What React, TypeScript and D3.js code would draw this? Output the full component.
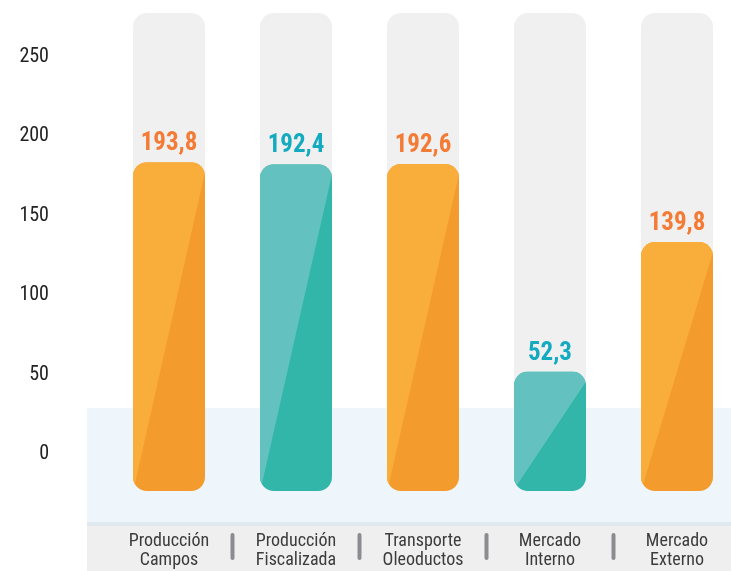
import { scaleLinear, scalePoint, select } from 'd3'
import { useEffect, useRef } from 'react'

const categories = ['Producción Campos', 'Producción Fiscalizada', 'Transporte Oleoductos', 'Mercado Interno', 'Mercado Externo']
const values = [193.8, 192.4, 192.6, 52.3, 139.8]
const valueLabels = ['193,8', '192,4', '192,6', '52,3', '139,8']
const palettes = ['orange', 'teal', 'orange', 'teal', 'orange']
const yTicks = [0, 50, 100, 150, 200, 250]

const colors: Record<string, { light: string; dark: string; text: string }> = {
  orange: { light: '#f9ae3b', dark: '#f39b2d', text: '#f47b35' },
  teal: { light: '#63c2bf', dark: '#33b6aa', text: '#14abc0' },
}

const FONT = "'Liberation Sans Narrow', 'Arial Narrow', 'Roboto Condensed', sans-serif"

export default function App() {
  const ref = useRef<SVGSVGElement>(null)

  useEffect(() => {
    if (!ref.current) return
    const width = 731
    const height = 571
    const svg = select(ref.current)
    svg.selectAll('*').remove()

    const plotBottom = 491
    const bgTop = 13
    const barWidth = 72
    const radius = 14

    const x = scalePoint<string>().domain(categories).range([169, 677])
    // tick labels on the left
    const yAxis = scaleLinear().domain([0, 250]).range([452, 55])
    // bar heights (the infographic's bars sit on their own scale)
    const yBar = scaleLinear().domain([0, 250]).range([449, 79])

    // bottom bands
    svg.append('rect').attr('x', 87).attr('y', 408).attr('width', width - 87).attr('height', 114).attr('fill', '#eef6fc')
    svg.append('rect').attr('x', 87).attr('y', 522).attr('width', width - 87).attr('height', 4).attr('fill', '#dfe9ee')
    svg.append('rect').attr('x', 87).attr('y', 526).attr('width', width - 87).attr('height', height - 526).attr('fill', '#efefef')

    // y labels
    svg
      .append('g')
      .selectAll('text')
      .data(yTicks)
      .join('text')
      .attr('x', 49)
      .attr('y', (d) => yAxis(d))
      .attr('dy', '0.35em')
      .attr('text-anchor', 'end')
      .attr('font-family', FONT)
      .attr('font-size', 20)
      .attr('fill', '#222')
      .text((d) => d)

    const defs = svg.append('defs')
    const bars = svg
      .append('g')
      .selectAll('g')
      .data(categories.map((c, i) => ({ c, i, v: values[i], label: valueLabels[i], pal: colors[palettes[i]] })))
      .join('g')

    // gray background columns
    bars
      .append('rect')
      .attr('x', (d) => (x(d.c) ?? 0) - barWidth / 2)
      .attr('y', bgTop)
      .attr('width', barWidth)
      .attr('height', plotBottom - bgTop)
      .attr('rx', radius)
      .attr('fill', '#f0f0f0')

    bars.each(function (d) {
      const g = select(this)
      const x0 = (x(d.c) ?? 0) - barWidth / 2
      const x1 = x0 + barWidth
      const top = yBar(d.v)
      const id = `clip-${d.i}`
      defs
        .append('clipPath')
        .attr('id', id)
        .append('rect')
        .attr('x', x0)
        .attr('y', top)
        .attr('width', barWidth)
        .attr('height', plotBottom - top)
        .attr('rx', radius)
      const inner = g.append('g').attr('clip-path', `url(#${id})`)
      inner.append('rect').attr('x', x0).attr('y', top).attr('width', barWidth).attr('height', plotBottom - top).attr('fill', d.pal.dark)
      inner
        .append('polygon')
        .attr('points', `${x0},${top} ${x1},${top} ${x1},${top + 10} ${x0 + 1},${plotBottom - 3} ${x0},${plotBottom}`)
        .attr('fill', d.pal.light)
      g.append('text')
        .attr('x', x(d.c) ?? 0)
        .attr('y', top - 12)
        .attr('text-anchor', 'middle')
        .attr('font-family', FONT)
        .attr('font-weight', 'bold')
        .attr('font-size', 25)
        .attr('fill', d.pal.text)
        .text(d.label)
    })

    // category labels, two lines each
    const labels = svg
      .append('g')
      .selectAll('g')
      .data(categories)
      .join('g')
      .attr('font-family', FONT)
      .attr('font-size', 18)
      .attr('fill', '#3c3c3c')
      .attr('text-anchor', 'middle')
    labels.each(function (d) {
      const g = select(this)
      d.split(' ').forEach((p, i) => {
        g.append('text')
          .attr('x', x(d) ?? 0)
          .attr('y', 546 + i * 19)
          .text(p)
      })
    })

    // separators between categories
    svg
      .append('g')
      .selectAll('rect')
      .data(categories.slice(1))
      .join('rect')
      .attr('x', (d, i) => ((x(categories[i]) ?? 0) + (x(d) ?? 0)) / 2 - 2)
      .attr('y', 533)
      .attr('width', 4)
      .attr('height', 27)
      .attr('rx', 2)
      .attr('fill', '#8c8c90')
  }, [])

  return <svg ref={ref} width={731} height={571} style={{ position: 'fixed', left: 0, top: 0, display: 'block' }} />
}
